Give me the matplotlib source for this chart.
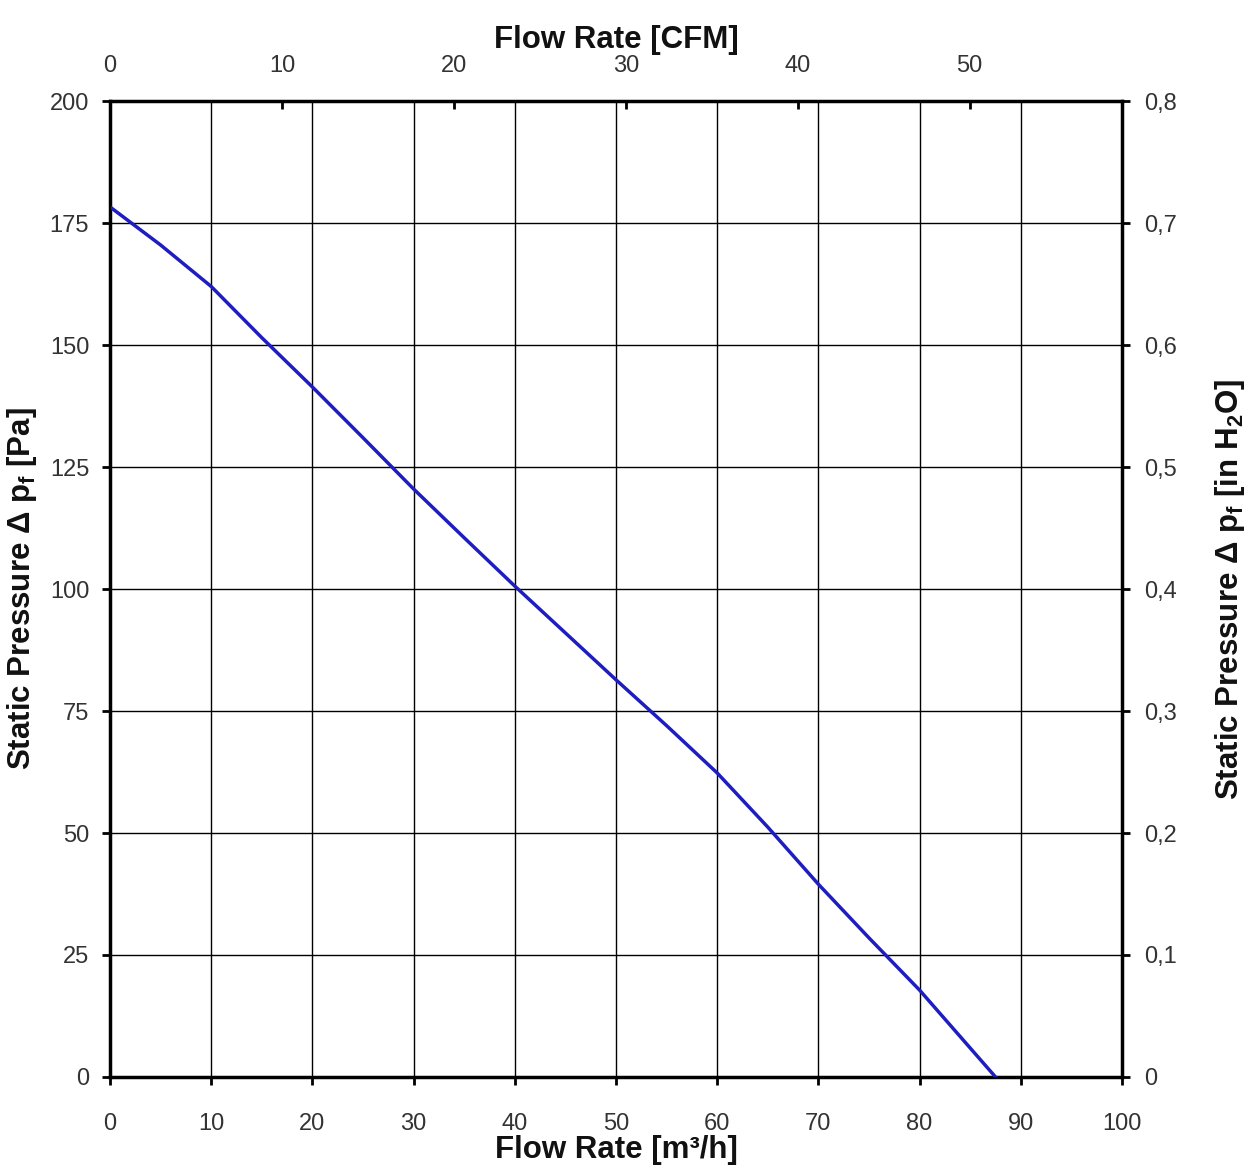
import numpy as np
import matplotlib
matplotlib.use("Agg")
import matplotlib.pyplot as plt

# fan curve
flow_m3h = [0, 5, 10, 15, 20, 25, 30, 35, 40, 45, 50, 55, 60, 65, 70, 75, 80, 87.5]
pressure_pa = [178.3, 170.5, 162, 151.5, 141.4, 131, 120.5, 110.5, 100.6, 91, 81.4, 72, 62.3, 51.2, 39.5, 28.5, 17.8, 0]

x_ticks = list(range(0, 101, 10))
y_ticks = list(range(0, 201, 25))
cfm_ticks = [0, 10, 20, 30, 40, 50]
inh2o_ticks = [0, 0.1, 0.2, 0.3, 0.4, 0.5, 0.6, 0.7, 0.8]

M3H_PER_CFM = 1.699

plt.rcParams['font.family'] = ['Liberation Sans Narrow', 'Liberation Sans', 'DejaVu Sans']
plt.rcParams['mathtext.fontset'] = 'custom'
plt.rcParams['mathtext.rm'] = 'Liberation Sans:bold'
plt.rcParams['mathtext.it'] = 'Liberation Sans:bold'
plt.rcParams['mathtext.bf'] = 'Liberation Sans:bold'

fig = plt.figure(figsize=(12.51, 11.69), dpi=100)
ax = fig.add_axes([0.0879, 0.0787, 0.809, 0.8349])

ax.plot(flow_m3h, pressure_pa, color='#1e1ec0', lw=2.5, zorder=3)
ax.set_xlim(0, 100)
ax.set_ylim(0, 200)
ax.set_xticks(x_ticks)
ax.set_yticks(y_ticks)
ax.grid(True, color='black', lw=1.0)
for s in ax.spines.values():
    s.set_linewidth(2.5)
ax.tick_params(axis='both', direction='out', length=6, width=2, labelsize=17, pad=9,
               labelcolor='#333333')
ax.tick_params(axis='x', pad=20)

lab = dict(fontsize=22.5, fontweight='bold', family='Liberation Sans', color='#111111')
ax.set_xlabel('Flow Rate [m³/h]', labelpad=0, **lab)
ax.set_ylabel(r'Static Pressure Δ p$_\mathregular{f}$ [Pa]', labelpad=8, **lab)

# top axis in CFM
top = ax.twiny()
top.set_xlim(0, 100 / M3H_PER_CFM)
top.set_xticks(cfm_ticks)
top.tick_params(axis='x', direction='in', length=6, width=2, labelsize=17, pad=17,
                labelcolor='#333333')
top.set_xlabel('Flow Rate [CFM]', labelpad=5, **lab)

# right axis in inches of water
right = ax.twinx()
right.set_ylim(0, 0.8)
right.set_yticks(inh2o_ticks)
right.set_yticklabels([f'{v:.1f}'.replace('.', ',') if v else '0' for v in inh2o_ticks])
right.tick_params(axis='y', direction='out', length=6, width=2, labelsize=17, pad=10,
                  labelcolor='#333333')
right.set_ylabel(r'Static Pressure Δ p$_\mathregular{f}$ [in H$_\mathregular{2}$O]', labelpad=26, **lab)

fig.savefig('out.png', dpi=100)
